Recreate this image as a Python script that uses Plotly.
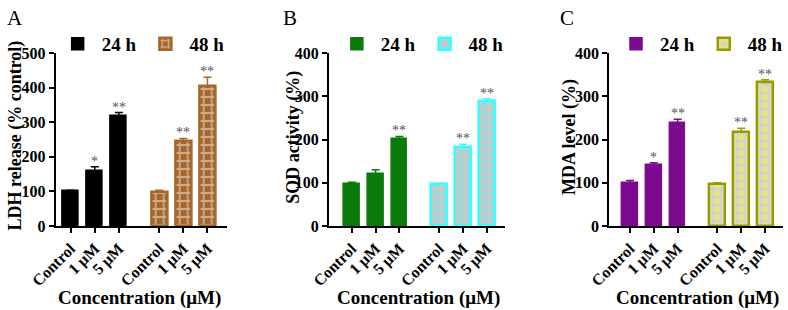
import plotly.graph_objects as go

W, H = 788, 310

categories = ["Control", "1 μM", "5 μM"]
groups = ["24 h", "48 h"]

ldh_24 = [100, 160, 318]
ldh_24_err = [3, 11, 10]
ldh_48 = [99, 245, 405]
ldh_48_err = [4, 8, 25]
ldh_24_sig = ["", "*", "**"]
ldh_48_sig = ["", "**", "**"]

sod_24 = [98, 120, 201]
sod_24_err = [3, 10, 6]
sod_48 = [97, 182, 288]
sod_48_err = [2, 7, 6]
sod_24_sig = ["", "", "**"]
sod_48_sig = ["", "**", "**"]

mda_24 = [99, 141, 238]
mda_24_err = [6, 5, 9]
mda_48 = [98, 217, 332]
mda_48_err = [2, 9, 6]
mda_24_sig = ["", "*", "**"]
mda_48_sig = ["", "**", "**"]

panels = [
    dict(letter="A", ytitle="LDH release (% control)", ymax=500,
         d24=ldh_24, e24=ldh_24_err, s24=ldh_24_sig,
         d48=ldh_48, e48=ldh_48_err, s48=ldh_48_sig,
         c24="#000000", p48=dict(shape="+", fgcolor="#EDEDED", bgcolor="#A5682A", size=8, solidity=0.4),
         line48="#A5682A",
         xdom=(56, 228), left=-0.62, right=6.46,
         ytx=4, yty=135, xtx=140, letx=5, legx=64),
    dict(letter="B", ytitle="SOD activity (%)", ymax=400,
         d24=sod_24, e24=sod_24_err, s24=sod_24_sig,
         d48=sod_48, e48=sod_48_err, s48=sod_48_sig,
         c24="#0A7A0A", p48=dict(shape=".", fgcolor="#33FFFF", bgcolor="#C8C8C8", size=8, solidity=0.3),
         line48="#33FFFF",
         xdom=(331, 508), left=-0.96, right=6.42,
         ytx=282, yty=137, xtx=421, letx=283, legx=345),
    dict(letter="C", ytitle="MDA level (%)", ymax=400,
         d24=mda_24, e24=mda_24_err, s24=mda_24_sig,
         d48=mda_48, e48=mda_48_err, s48=mda_48_sig,
         c24="#7B0A8E", p48=dict(shape=".", fgcolor="#FFFF00", bgcolor="#D2D2D2", size=8, solidity=0.4),
         line48="#999900",
         xdom=(613, 788), left=-0.875, right=6.42,
         ytx=560, yty=137, xtx=702, letx=562, legx=626),
]

gap_extra = 0.67
pos24 = [0, 1, 2]
pos48 = [3 + gap_extra, 4 + gap_extra, 5 + gap_extra]

FONT = "Liberation Serif, Times New Roman, serif"
fig = go.Figure()
annotations = []
ytop_px, ybot_px = 53, 226
ydom = [(H - ybot_px) / H, (H - ytop_px) / H]

def b(s):
    return "<b>" + s + "</b>"

for i, p in enumerate(panels):
    n = "" if i == 0 else str(i + 1)
    xa, ya = "x" + n, "y" + n
    leg = "legend" + n
    fig.add_trace(go.Bar(
        x=pos24, y=p["d24"], name=b(groups[0]), xaxis=xa, yaxis=ya, legend=leg,
        width=0.66, marker=dict(color=p["c24"], line=dict(color=p["c24"], width=1.5)),
        error_y=dict(type="data", array=p["e24"], symmetric=False, arrayminus=[0, 0, 0],
                     color=p["c24"], thickness=1.5, width=4),
    ))
    fig.add_trace(go.Bar(
        x=pos48, y=p["d48"], name=b(groups[1]), xaxis=xa, yaxis=ya, legend=leg,
        width=0.66, marker=dict(color=p["p48"]["bgcolor"], pattern=p["p48"],
                                line=dict(color=p["line48"], width=2.5)),
        error_y=dict(type="data", array=p["e48"], symmetric=False, arrayminus=[0, 0, 0],
                     color=p["line48"], thickness=1.5, width=4),
    ))
    for xs, vals, errs, sigs in ((pos24, p["d24"], p["e24"], p["s24"]), (pos48, p["d48"], p["e48"], p["s48"])):
        for xv, v, e, s in zip(xs, vals, errs, sigs):
            if s:
                annotations.append(dict(x=xv, y=v + e, xref=xa, yref=ya, text=s, showarrow=False,
                                        yanchor="bottom", yshift=-4,
                                        font=dict(family=FONT, size=14, color="#555555")))
    x0, x1 = p["xdom"]
    fig.update_layout({
        "xaxis" + n: dict(domain=[x0 / W, min(x1 / W, 1)], range=[p["left"], p["right"]], anchor=ya,
                          tickvals=pos24 + pos48, ticktext=[b(c) for c in categories + categories], tickangle=-45,
                          showline=True, linecolor="black", linewidth=2, ticks="outside", ticklen=5,
                          tickwidth=2, tickcolor="black", showgrid=False, zeroline=False, automargin=False,
                          tickfont=dict(family=FONT, size=16, color="black")),
        "yaxis" + n: dict(domain=ydom, range=[0, p["ymax"]], anchor=xa, dtick=100,
                          tickvals=list(range(0, p["ymax"] + 1, 100)),
                          ticktext=[b(str(v)) for v in range(0, p["ymax"] + 1, 100)],
                          showline=True, linecolor="black", linewidth=2, ticks="outside", ticklen=5,
                          tickwidth=2, tickcolor="black", showgrid=False, zeroline=False, automargin=False,
                          tickfont=dict(family=FONT, size=16, color="black")),
        leg: dict(x=(p["legx"] - 10) / W, y=(H - 25) / H, xanchor="left", yanchor="top",
                  orientation="h", bgcolor="rgba(0,0,0,0)",
                  font=dict(family=FONT, size=19, color="black"),
                  itemwidth=38, tracegroupgap=0),
    })
    annotations.append(dict(x=p["letx"] / W, y=(H - 4) / H, xref="paper", yref="paper", text=p["letter"],
                            showarrow=False, xanchor="left", yanchor="top",
                            font=dict(family=FONT, size=21, color="black")))
    annotations.append(dict(x=p["ytx"] / W, y=(H - p["yty"]) / H, xref="paper", yref="paper", text=b(p["ytitle"]),
                            showarrow=False, textangle=-90, xanchor="left", yanchor="middle",
                            font=dict(family=FONT, size=18, color="black")))
    annotations.append(dict(x=p["xtx"] / W, y=(H - 298) / H, xref="paper", yref="paper", text=b("Concentration (μM)"),
                            showarrow=False, xanchor="center", yanchor="middle",
                            font=dict(family=FONT, size=19, color="black")))

fig.update_layout(
    width=W, height=H, margin=dict(l=0, r=0, t=0, b=0),
    plot_bgcolor="white", paper_bgcolor="white",
    barmode="overlay", bargap=0, annotations=annotations, showlegend=True,
)
fig.write_html("out.html")
